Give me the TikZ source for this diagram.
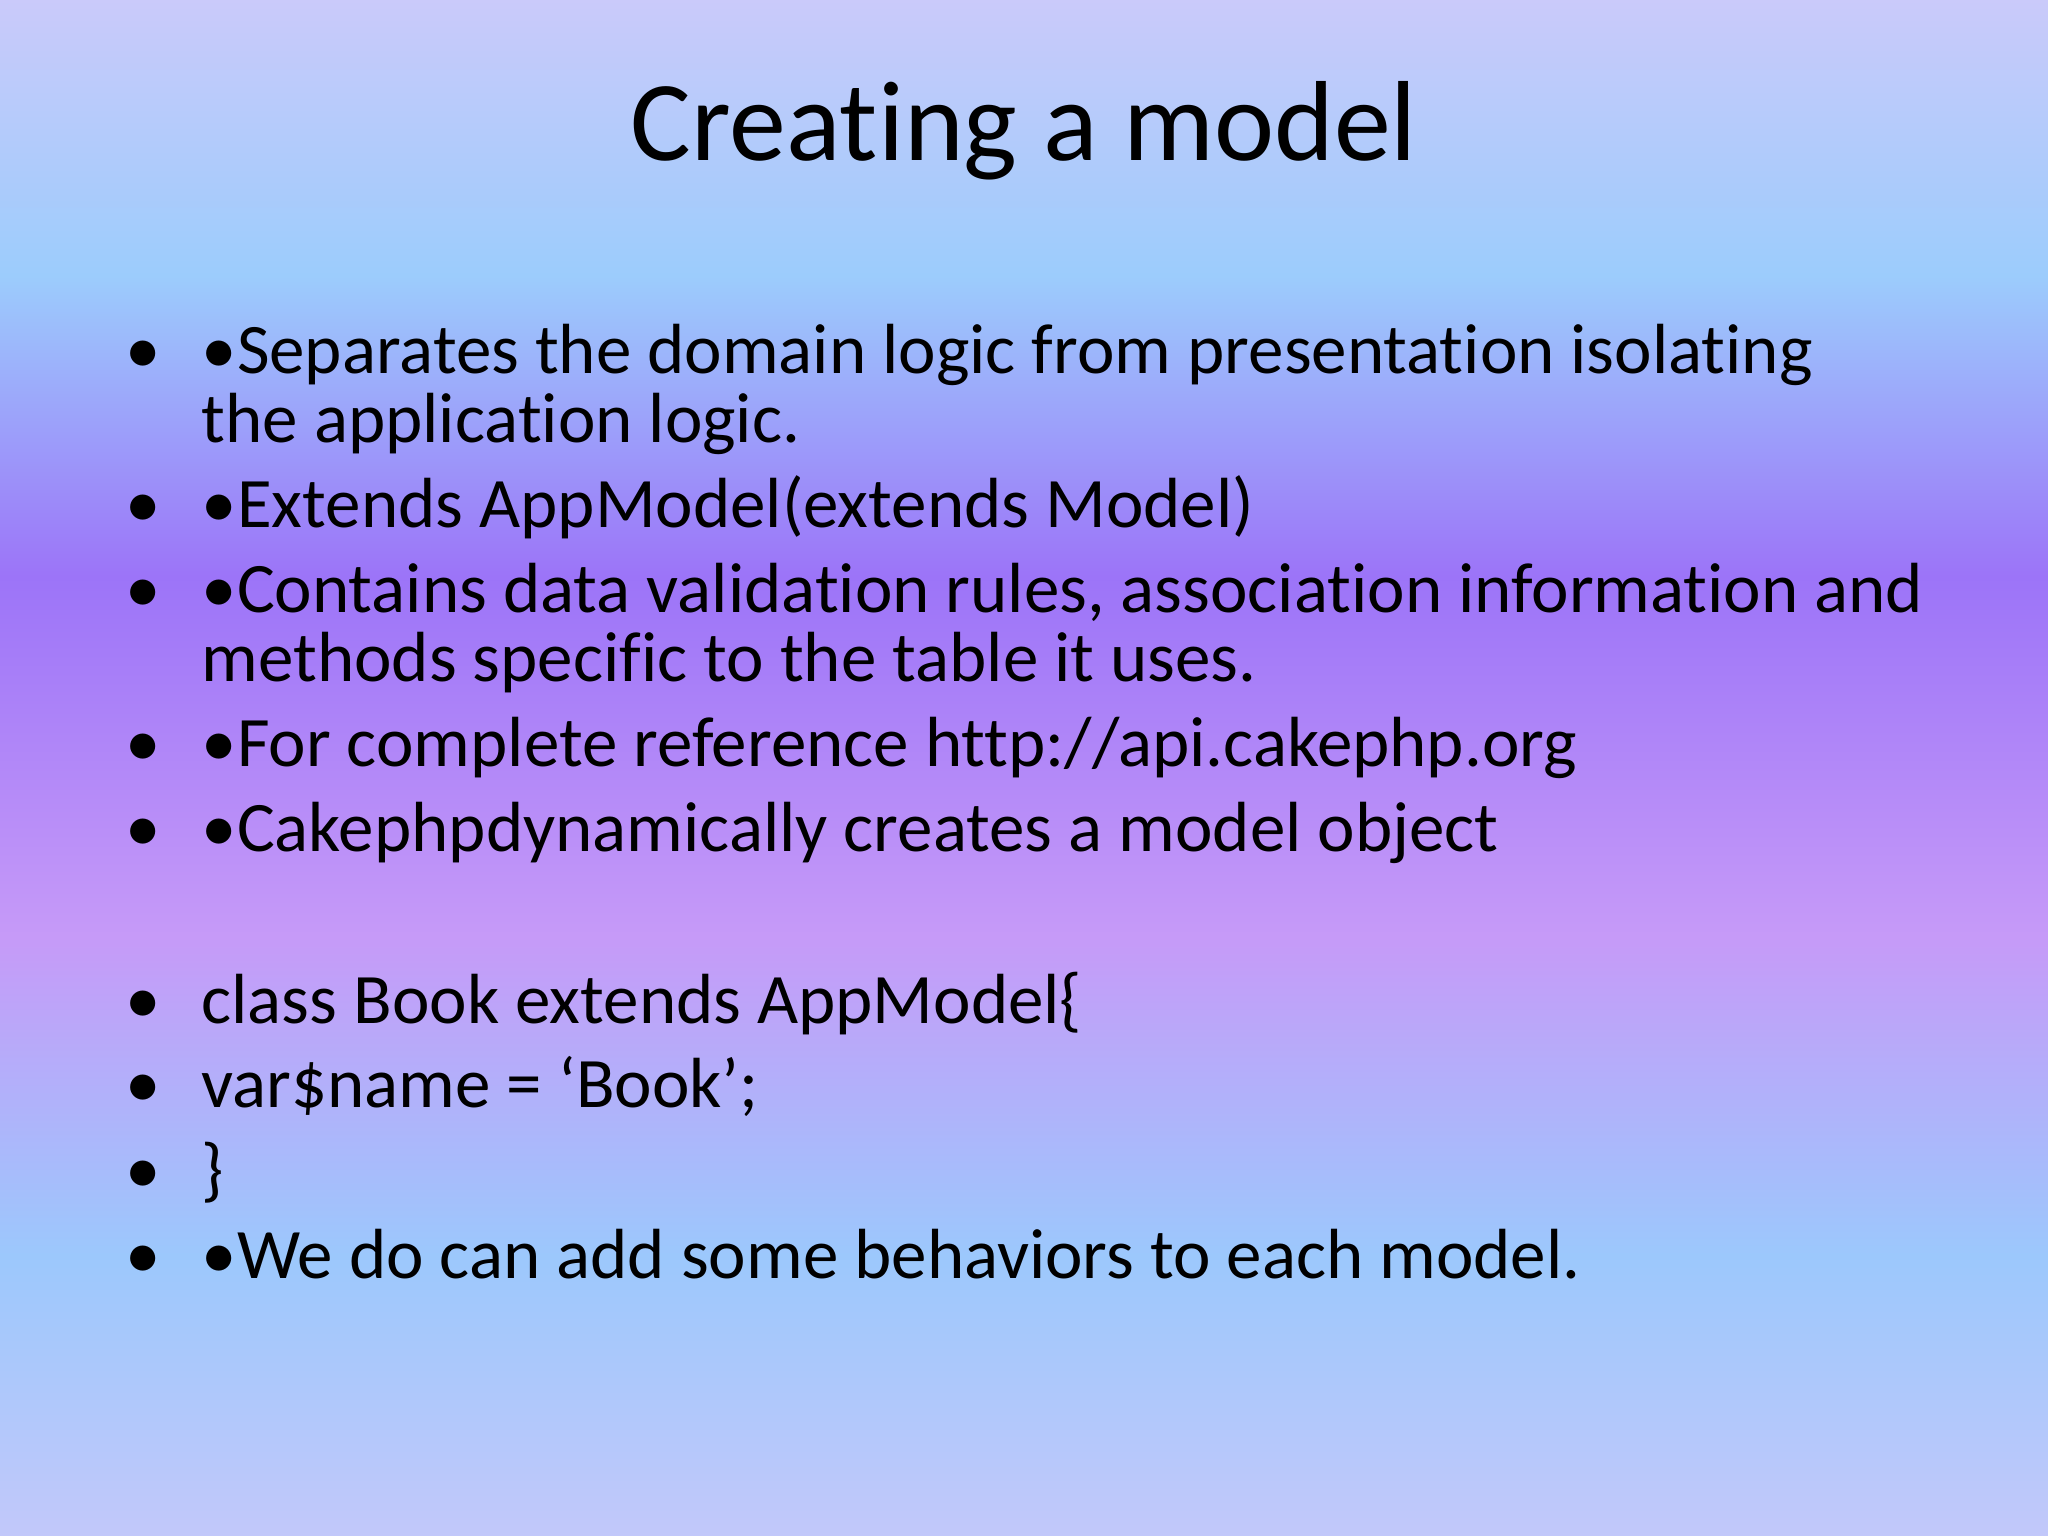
\documentclass[tikz,border=0pt]{standalone}
\usepackage{fontspec}
\setmainfont[Ligatures={NoCommon}]{Carlito}
\definecolor{cA}{HTML}{CACAFA}
\definecolor{cB}{HTML}{9CCCFC}
\definecolor{cC}{HTML}{9C74F8}
\definecolor{cD}{HTML}{C69AF8}
\definecolor{cE}{HTML}{9CC8FC}
\definecolor{cF}{HTML}{C2C8FA}
\tikzset{txt/.style={anchor=base west,inner sep=0pt,font=\fontsize{20.2}{24}\selectfont},
bul/.style={anchor=base west,inner sep=0pt,font=\fontsize{20.2}{24}\selectfont}}
\begin{document}
\begin{tikzpicture}
\useasboundingbox (0,0) rectangle (20.48,15.36);
\shade[top color=cA,bottom color=cB] (0,15.36) rectangle (20.48,12.6);
\shade[top color=cB,bottom color=cC] (0,12.6) rectangle (20.48,9.6);
\shade[top color=cC,bottom color=cD] (0,9.6) rectangle (20.48,6.0);
\shade[top color=cD,bottom color=cE] (0,6.0) rectangle (20.48,2.8);
\shade[top color=cE,bottom color=cF] (0,2.8) rectangle (20.48,0);
\node[font=\fontsize{32.4}{38}\selectfont,inner sep=0pt] (title) at (10.24,14.05) {Creating a model};
\foreach \y/\n in {11.625/1,10.084/2,9.235/3,7.694/4,6.845/5,5.121/6,4.285/7,3.423/8,2.574/9}
  \node[bul] (b\n) at (1.25,\y) {•};
\node[txt] (t1) at (2.01,11.625) {•Separates the domain logic from presentation isolating};
\node[txt] (t1b) at (2.01,10.933) {the application logic.};
\node[txt] (t2) at (2.01,10.084) {•Extends AppModel(extends Model)};
\node[txt] (t3) at (2.01,9.235) {•Contains data validation rules, association information and};
\node[txt] (t3b) at (2.01,8.543) {methods specific to the table it uses.};
\node[txt] (t4) at (2.01,7.694) {•For complete reference http://api.cakephp.org};
\node[txt] (t5) at (2.01,6.845) {•Cakephpdynamically creates a model object};
\node[txt] (t6) at (2.01,5.121) {class Book extends AppModel\{};
\node[txt] (t7) at (2.01,4.285) {var\$name = ‘Book\char"27;};
\node[txt] (t8) at (2.01,3.423) {\}};
\node[txt] (t9) at (2.01,2.574) {•We do can add some behaviors to each model.};
\end{tikzpicture}
\end{document}
